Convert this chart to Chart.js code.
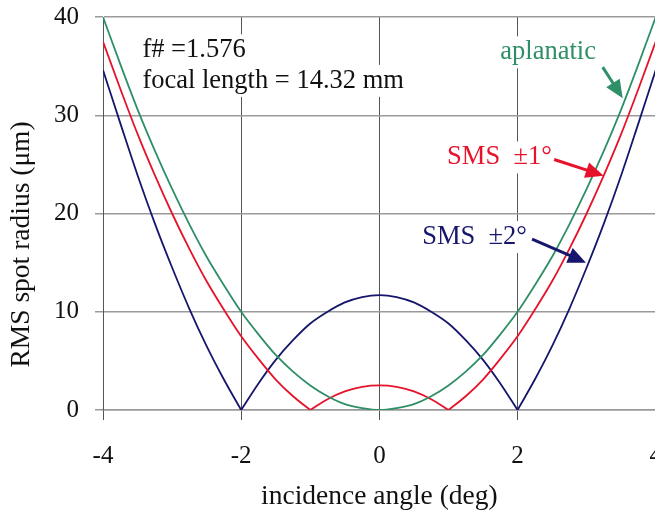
<!DOCTYPE html>
<html>
<head>
<meta charset="utf-8">
<script src="https://cdn.jsdelivr.net/npm/chart.js@4/dist/chart.umd.min.js"></script>
<style>
  html, body { margin: 0; padding: 0; background: #fff; overflow: hidden; }
  #wrap { width: 655px; height: 514px; overflow: hidden; position: relative; }
  canvas { display: block; position: absolute; left: 0; top: -14px; }
</style>
</head>
<body>
<div id="wrap"><canvas id="c" width="683" height="528"></canvas></div>
<script>
// incidence angle (deg)
const angles = [-4, -3.75, -3.5, -3.25, -3, -2.75, -2.5, -2.25, -2, -1.75, -1.5, -1.25, -1, -0.75, -0.5, -0.25, 0,
                0.25, 0.5, 0.75, 1, 1.25, 1.5, 1.75, 2, 2.25, 2.5, 2.75, 3, 3.25, 3.5, 3.75, 4];
// RMS spot radius (um)
const aplanatic = [40, 35.2, 30.6, 26.4, 22.5, 18.9, 15.6, 12.7, 10, 7.7, 5.6, 3.9, 2.5, 1.4, 0.6, 0.2, 0,
                   0.2, 0.6, 1.4, 2.5, 3.9, 5.6, 7.7, 10, 12.7, 15.6, 18.9, 22.5, 26.4, 30.6, 35.2, 40];
const sms1 = [37.5, 32.7, 28.1, 23.9, 20.0, 16.4, 13.1, 10.2, 7.5, 5.2, 3.1, 1.4, 0, 1.1, 1.9, 2.35, 2.5,
              2.35, 1.9, 1.1, 0, 1.4, 3.1, 5.2, 7.5, 10.2, 13.1, 16.4, 20.0, 23.9, 28.1, 32.7, 37.5];
const sms2 = [34.6, 29.2, 23.9, 19.0, 14.5, 10.3, 6.5, 3.1, 0, 2.7, 5.1, 7.1, 8.8, 10.0, 10.95, 11.5, 11.7,
              11.5, 10.95, 10.0, 8.8, 7.1, 5.1, 2.7, 0, 3.1, 6.5, 10.3, 14.5, 19.0, 23.9, 29.2, 34.6];
// angles where a curve has a sharp (V-shaped) zero
const sms1Cusps = [-1, 1];
const sms2Cusps = [-2, 2];
const xTicks = [-4, -2, 0, 2, 4];
const yTicks = [0, 10, 20, 30, 40];

const GREEN = '#2f8f66', RED = '#e6132b', NAVY = '#16166c';
const SERIF = '"Liberation Serif", "Times New Roman", serif';
const NB = '\u00a0';

// split a series into smooth pieces at its cusps
function pieces(label, ys, cusps, color) {
  const out = [];
  let cur = [];
  angles.forEach((x, i) => {
    cur.push({ x: x, y: ys[i] });
    if (cusps.includes(x)) { out.push(cur); cur = [{ x: x, y: ys[i] }]; }
  });
  if (cur.length > 1) out.push(cur);
  return out.map(d => ({ label: label, data: d, borderColor: color }));
}

// annotations in data coordinates
const notes = [
  { text: 'f# =1.576', x: -3.43, y: 36.6, color: '#111' },
  { text: 'focal length = 14.32 mm', x: -3.43, y: 33.5, color: '#111' },
  { text: 'aplanatic', x: 1.75, y: 36.4, color: GREEN },
  { text: 'SMS' + NB + NB + '\u00b11\u00b0', x: 0.98, y: 25.7, color: RED },
  { text: 'SMS' + NB + NB + '\u00b12\u00b0', x: 0.62, y: 17.6, color: NAVY }
];
const arrows = [
  { from: [3.232, 34.9], to: [3.522, 31.74], color: GREEN },
  { from: [2.53, 25.5], to: [3.246, 23.85], color: RED },
  { from: [2.21, 17.4], to: [2.99, 15.0], color: NAVY }
];

const annot = {
  id: 'annot',
  beforeDatasetsDraw(chart) {
    const ctx = chart.ctx, xs = chart.scales.x, ys = chart.scales.y;
    ctx.save();
    ctx.font = '26.5px ' + SERIF;
    ctx.fillStyle = '#fff';
    notes.forEach(n => {
      const w = ctx.measureText(n.text).width;
      const px = xs.getPixelForValue(n.x), py = ys.getPixelForValue(n.y);
      ctx.fillRect(px - 6, py - 16, w + 12, 32);
    });
    ctx.restore();
  },
  afterDatasetsDraw(chart) {
    const ctx = chart.ctx, xs = chart.scales.x, ys = chart.scales.y;
    ctx.save();
    ctx.font = '26.5px ' + SERIF;
    ctx.textBaseline = 'middle';
    ctx.textAlign = 'left';
    notes.forEach(n => {
      ctx.fillStyle = n.color;
      ctx.fillText(n.text, xs.getPixelForValue(n.x), ys.getPixelForValue(n.y));
    });
    arrows.forEach(a => {
      const x1 = xs.getPixelForValue(a.from[0]), y1 = ys.getPixelForValue(a.from[1]);
      const x2 = xs.getPixelForValue(a.to[0]), y2 = ys.getPixelForValue(a.to[1]);
      const ang = Math.atan2(y2 - y1, x2 - x1);
      const L = 18, W = 8;
      const bx = x2 - L * Math.cos(ang), by = y2 - L * Math.sin(ang);
      ctx.strokeStyle = a.color; ctx.fillStyle = a.color; ctx.lineWidth = 3;
      ctx.beginPath(); ctx.moveTo(x1, y1); ctx.lineTo(bx + 2 * Math.cos(ang), by + 2 * Math.sin(ang)); ctx.stroke();
      ctx.beginPath();
      ctx.moveTo(x2, y2);
      ctx.lineTo(bx + W * Math.sin(ang), by - W * Math.cos(ang));
      ctx.lineTo(bx - W * Math.sin(ang), by + W * Math.cos(ang));
      ctx.closePath(); ctx.fill();
    });
    ctx.restore();
  }
};

new Chart(document.getElementById('c'), {
  type: 'line',
  data: {
    datasets: [
      ...pieces('aplanatic', aplanatic, [], GREEN),
      ...pieces('SMS ±1°', sms1, sms1Cusps, RED),
      ...pieces('SMS ±2°', sms2, sms2Cusps, NAVY)
    ]
  },
  options: {
    responsive: false,
    animation: false,
    devicePixelRatio: 1,
    layout: { padding: 0 },
    elements: {
      line: { borderWidth: 1.8, cubicInterpolationMode: 'monotone', fill: false },
      point: { radius: 0 }
    },
    plugins: { legend: { display: false }, tooltip: { enabled: false } },
    scales: {
      x: {
        type: 'linear', min: -4, max: 4,
        afterBuildTicks: s => { s.ticks = xTicks.map(v => ({ value: v })); },
        afterFit: s => { s.height = 104; },
        grid: { color: '#555', lineWidth: 1, tickLength: 10 },
        border: { color: '#999', width: 1.5 },
        ticks: { color: '#111', font: { family: SERIF, size: 25 }, padding: 21, maxRotation: 0 },
        title: { display: true, text: 'incidence angle (deg)', color: '#111',
                 font: { family: SERIF, size: 27.5 }, padding: { top: 0, bottom: 1 } }
      },
      y: {
        min: 0, max: 40,
        afterBuildTicks: s => { s.ticks = yTicks.map(v => ({ value: v })); },
        afterFit: s => { s.width = 103; },
        grid: { color: '#9a9a9a', lineWidth: 1.5, tickLength: 8 },
        border: { color: '#555', width: 1 },
        ticks: { color: '#111', font: { family: SERIF, size: 25 }, padding: 16 },
        title: { display: true, text: 'RMS spot radius (\u03bcm)' + NB.repeat(9), color: '#111',
                 font: { family: SERIF, size: 27.5 }, padding: { top: 5, bottom: 0 } }
      }
    }
  },
  plugins: [annot]
});
</script>
</body>
</html>
